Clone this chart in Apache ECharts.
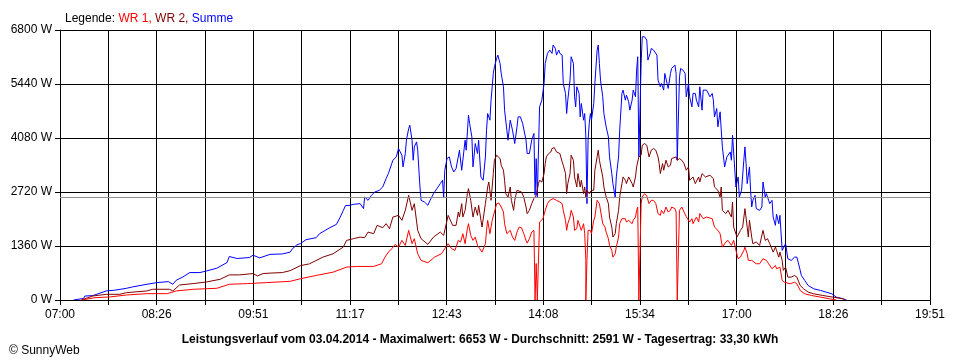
<!DOCTYPE html>
<html><head><meta charset="utf-8">
<script src="https://cdn.jsdelivr.net/npm/echarts@6/dist/echarts.min.js"></script>
<style>html,body{margin:0;padding:0;background:#fff}#c{width:960px;height:360px}</style>
</head><body><div id="c"></div>
<script>
const tickLabels = ["07:00","08:26","09:51","11:17","12:43","14:08","15:34","17:00","18:26","19:51"];
const yTicks = [0,1360,2720,4080,5440,6800];
const average = 2591;
const titleText = "Leistungsverlauf vom 03.04.2014 - Maximalwert: 6653 W - Durchschnitt: 2591 W - Tagesertrag: 33,30 kWh";

const sumPoints = [["07:12",0],["07:13",30],["07:21",40],["07:22",100],["07:29",110],["07:30",160],["07:41",228],["07:48",245],["07:59",295],["08:04",328],["08:17",396],["08:26",438],["08:36",463],["08:40",396],["08:43",497],["08:49",581],["08:55",691],["09:04",691],["09:10",733],["09:19",801],["09:28",943],["09:30",1095],["09:37",1045],["09:48",1070],["09:51",1129],["09:57",1060],["10:06",1148],["10:17",1160],["10:24",1206],["10:26",1292],["10:30",1390],["10:33",1418],["10:38",1519],["10:47",1569],["10:50",1670],["10:59",1820],["11:05",1905],["11:08",2070],["11:11",2250],["11:13",2380],["11:17",2384],["11:20",2409],["11:26",2427],["11:29",2301],["11:30",2594],["11:33",2510],["11:36",2637],["11:39",2720],["11:43",2763],["11:46",2847],["11:49",3058],["11:51",3184],["11:54",3436],["11:55",3520],["11:58",3604],["12:00",3814],["12:01",3772],["12:03",3646],["12:04",3352],["12:06",3688],["12:07",4024],["12:09",4319],["12:10",4403],["12:12",4024],["12:13",3520],["12:14",3856],["12:16",3982],["12:17",3772],["12:19",2847],["12:20",2510],["12:23",2468],["12:26",2384],["12:28",2510],["12:31",2679],["12:34",2805],["12:37",2931],["12:39",3015],["12:40",2594],["12:41",3268],["12:43",3562],["12:45",3604],["12:47",3352],["12:49",3226],["12:51",3310],["12:54",3772],["12:56",3268],["12:59",4024],["13:00",3772],["13:02",4655],["13:03",4445],["13:05",4108],["13:06",3352],["13:08",3941],["13:10",3689],["13:11",4024],["13:13",3099],["13:15",3015],["13:17",3604],["13:18",4277],["13:19",4697],["13:21",4529],["13:22",5033],["13:24",5706],["13:25",5874],["13:27",6085],["13:28",6168],["13:30",5958],["13:31",5706],["13:33",5370],["13:34",4781],["13:36",4277],["13:37",4024],["13:39",4529],["13:41",4277],["13:43",3941],["13:45",4361],["13:46",4613],["13:48",4613],["13:50",4445],["13:53",4024],["13:54",3689],["13:56",3689],["13:57",3856],["13:58",4024],["14:00",4193],["14:01",2640],["14:02",3560],["14:03",2600],["14:04",2600],["14:05",4865],["14:07",5033],["14:08",5033],["14:09",5454],["14:10",5958],["14:12",6210],["14:14",6294],["14:16",6210],["14:17",6421],["14:19",6336],["14:20",6168],["14:22",6294],["14:23",6210],["14:25",6168],["14:26",5454],["14:28",5202],["14:29",4697],["14:30",5033],["14:32",5538],["14:33",6126],["14:35",5958],["14:36",5118],["14:37",4865],["14:38",5370],["14:40",5202],["14:41",4613],["14:42",4949],["14:44",4529],["14:45",4697],["14:46",4108],["14:47",2427],["14:48",4024],["14:49",4445],["14:50",4697],["14:51",4529],["14:53",4949],["14:54",5454],["14:56",6294],["14:57",6421],["14:58",5958],["14:59",5538],["15:01",5118],["15:02",4697],["15:04",4361],["15:06",4108],["15:07",3604],["15:09",3184],["15:10",2931],["15:12",2594],["15:13",3099],["15:15",3604],["15:16",4277],["15:18",5202],["15:19",5286],["15:21",5033],["15:22",5159],["15:24",4991],["15:25",4781],["15:27",5033],["15:28",5286],["15:30",5118],["15:31",5790],["15:32",6126],["15:33",3604],["15:34",3646],["15:35",5958],["15:36",6630],["15:38",6630],["15:40",6546],["15:41",6042],["15:43",6210],["15:44",6336],["15:46",6294],["15:47",6336],["15:49",6168],["15:50",5538],["15:52",5370],["15:53",5454],["15:55",5286],["15:56",5706],["15:58",5454],["15:59",5328],["16:01",5706],["16:02",5832],["16:03",5874],["16:05",5916],["16:06",5706],["16:07",3520],["16:08",3520],["16:09",5622],["16:10",5832],["16:12",5790],["16:14",5706],["16:15",5118],["16:17",5454],["16:18",5118],["16:20",4865],["16:21",5202],["16:23",5202],["16:24",5033],["16:26",4865],["16:27",5370],["16:29",4781],["16:30",5286],["16:33",5286],["16:36",5118],["16:38",5202],["16:39",5033],["16:40",4613],["16:42",4823],["16:43",4361],["16:45",4739],["16:46",4277],["16:47",3856],["16:49",3352],["16:51",3604],["16:54",3730],["16:55",3520],["16:56",4151],["16:57",4109],["16:59",2846],["17:01",3099],["17:02",2594],["17:04",2763],["17:06",3520],["17:07",3856],["17:08",3436],["17:09",2931],["17:11",3352],["17:12",2763],["17:13",2342],["17:14",2510],["17:16",2637],["17:17",2301],["17:20",2258],["17:22",2342],["17:23",2972],["17:25",2594],["17:26",2679],["17:28",2510],["17:29",2427],["17:31",2510],["17:32",2089],["17:34",1880],["17:35",2161],["17:37",1922],["17:38",2132],["17:40",1249],["17:41",1206],["17:43",1418],["17:45",1040],["17:48",997],["17:51",1080],["17:53",1080],["17:56",745],["17:57",618],["18:00",492],["18:03",366],["18:08",282],["18:14",240],["18:19",198],["18:24",156],["18:28",72],["18:34",30],["18:37",0]];

const wr2Points = [["07:19",0],["07:20",43],["07:29",101],["07:41",143],["07:53",143],["07:59",185],["08:17",228],["08:22",270],["08:37",270],["08:40",228],["08:46",379],["08:58",413],["09:10",455],["09:22",522],["09:30",632],["09:39",632],["09:51",666],["09:55",607],["10:00",666],["10:06",677],["10:17",691],["10:24",740],["10:33",865],["10:41",910],["10:53",1080],["11:02",1164],["11:11",1332],["11:14",1501],["11:20",1544],["11:26",1585],["11:30",1569],["11:33",1711],["11:38",1670],["11:41",1880],["11:46",1821],["11:49",1922],["11:52",1796],["11:55",2089],["12:00",2132],["12:03",2006],["12:06",2258],["12:09",2637],["12:12",2258],["12:14",2427],["12:17",1754],["12:20",1544],["12:26",1400],["12:31",1585],["12:37",1711],["12:40",1627],["12:44",2132],["12:48",1880],["12:51",1880],["12:53",2216],["12:54",2089],["12:56",2427],["12:57",2089],["12:59",2258],["13:01",2679],["13:02",2805],["13:04",2510],["13:06",2089],["13:08",2342],["13:10",2132],["13:11",2384],["13:14",1837],["13:15",1796],["13:17",2427],["13:19",2846],["13:20",2972],["13:22",2510],["13:24",3184],["13:25",3520],["13:27",3646],["13:28",3688],["13:30",3562],["13:31",3394],["13:33",3268],["13:34",3015],["13:35",2679],["13:37",2594],["13:39",2846],["13:40",2510],["13:42",2258],["13:43",2510],["13:45",2763],["13:46",2780],["13:49",2720],["13:51",2594],["13:53",2342],["13:54",2175],["13:56",2258],["13:58",2427],["14:00",2553],["14:01",2510],["14:02",2637],["14:04",2931],["14:05",3015],["14:07",2972],["14:09",3184],["14:10",3436],["14:11",3604],["14:13",3688],["14:15",3730],["14:16",3814],["14:18",3839],["14:20",3730],["14:23",3688],["14:25",3478],["14:26",3394],["14:28",3184],["14:29",2679],["14:30",2931],["14:32",3184],["14:33",3646],["14:35",3520],["14:36",3099],["14:38",2846],["14:39",3184],["14:41",2846],["14:42",3015],["14:44",2679],["14:45",2846],["14:46",2594],["14:47",2763],["14:49",2679],["14:51",2763],["14:53",2763],["14:54",3268],["14:56",3604],["14:57",3772],["14:58",3520],["15:01",3099],["15:02",2846],["15:04",2594],["15:06",2427],["15:07",2089],["15:09",1837],["15:10",1585],["15:12",1670],["15:13",1922],["15:15",2258],["15:16",2594],["15:18",2931],["15:19",3099],["15:21",3015],["15:22",2931],["15:24",3099],["15:27",2931],["15:28",2846],["15:30",3099],["15:31",3352],["15:33",3604],["15:35",3646],["15:36",3898],["15:38",3940],["15:40",3898],["15:42",3604],["15:44",3772],["15:46",3814],["15:48",3772],["15:50",3604],["15:51",3436],["15:52",3184],["15:54",3436],["15:55",3268],["15:57",3520],["15:59",3352],["16:01",3394],["16:02",3562],["16:03",3520],["16:06",3604],["16:07",3520],["16:09",3562],["16:11",3520],["16:13",3436],["16:15",3268],["16:17",3352],["16:18",3015],["16:21",3099],["16:23",2931],["16:26",3099],["16:27",2972],["16:29",3184],["16:32",3099],["16:36",3142],["16:39",3058],["16:40",2846],["16:43",2763],["16:45",2594],["16:46",2846],["16:47",2258],["16:50",2175],["16:52",2258],["16:55",2089],["16:56",2468],["16:57",1837],["17:00",1585],["17:03",1754],["17:05",1837],["17:07",2301],["17:09",1837],["17:10",1585],["17:11",2006],["17:13",1585],["17:14",1418],["17:17",1459],["17:20",1375],["17:23",1754],["17:25",1501],["17:27",1544],["17:29",1418],["17:32",1206],["17:34",1332],["17:35",1249],["17:37",1080],["17:38",1206],["17:40",997],["17:41",745],["17:43",828],["17:45",576],["17:48",576],["17:51",618],["17:53",576],["17:56",366],["17:59",282],["18:03",198],["18:08",156],["18:16",114],["18:25",72],["18:34",30],["18:36",0]];

const wr1Points = [["07:19",0],["07:20",17],["07:31",59],["07:44",76],["07:59",126],["08:17",160],["08:35",160],["08:43",228],["08:58",270],["09:19",295],["09:30",396],["09:46",413],["10:03",438],["10:24",470],["10:33",535],["10:47",618],["11:02",701],["11:14",828],["11:23",845],["11:38",845],["11:45",913],["11:48",1080],["11:51",1206],["11:54",1292],["11:57",1400],["12:00",1332],["12:03",1501],["12:06",1375],["12:09",1754],["12:12",1418],["12:14",1544],["12:17",1164],["12:20",997],["12:26",938],["12:32",1080],["12:38",1164],["12:41",1292],["12:44",1418],["12:47",1292],["12:50",1249],["12:51",1332],["12:53",1501],["12:55",1459],["12:57",1670],["12:59",1418],["13:01",1796],["13:02",1922],["13:04",1627],["13:06",1501],["13:08",1585],["13:10",1375],["13:12",1292],["13:14",1206],["13:17",1418],["13:18",1754],["13:19",2006],["13:21",1670],["13:23",2006],["13:25",2216],["13:27",2427],["13:29",2442],["13:31",2342],["13:33",2216],["13:34",1922],["13:36",1670],["13:39",1754],["13:41",1585],["13:43",1501],["13:45",1711],["13:47",1837],["13:49",1821],["13:51",1670],["13:53",1501],["13:54",1433],["13:56",1544],["13:58",1711],["14:00",1754],["14:01",0],["14:02",0],["14:02",920],["14:03",920],["14:03",0],["14:04",0],["14:05",1964],["14:08",2048],["14:10",2258],["14:12",2427],["14:14",2510],["14:17",2553],["14:20",2510],["14:23",2468],["14:25",2427],["14:26",2258],["14:28",2006],["14:29",1754],["14:30",1922],["14:32",2089],["14:33",2258],["14:35",2089],["14:36",1754],["14:38",1796],["14:39",2006],["14:41",1837],["14:42",1754],["14:44",1922],["14:45",1670],["14:46",997],["14:46",0],["14:47",0],["14:47",997],["14:48",1754],["14:50",1754],["14:51",1670],["14:53",2006],["14:54",2089],["14:56",2510],["14:57",2553],["14:58",2427],["15:00",2089],["15:01",1922],["15:03",1837],["15:04",1711],["15:06",1544],["15:07",1375],["15:09",1249],["15:10",1080],["15:12",1164],["15:13",1332],["15:15",1585],["15:16",1922],["15:18",2048],["15:19",2006],["15:21",2048],["15:22",1964],["15:24",2006],["15:25",1964],["15:27",1922],["15:28",2006],["15:30",2089],["15:31",2258],["15:32",2342],["15:33",0],["15:34",0],["15:35",2427],["15:36",2594],["15:38",2679],["15:40",2620],["15:42",2427],["15:44",2510],["15:46",2510],["15:48",2427],["15:50",2175],["15:52",2132],["15:53",2258],["15:55",2175],["15:57",2342],["15:59",2216],["16:01",2258],["16:02",2342],["16:05",2301],["16:06",2216],["16:07",0],["16:08",0],["16:09",2258],["16:11",2342],["16:12",2301],["16:13",2216],["16:15",2100],["16:18",1964],["16:20",2048],["16:21",1922],["16:24",2089],["16:26",1964],["16:27",2175],["16:30",2048],["16:33",2089],["16:38",2048],["16:40",1837],["16:43",1754],["16:45",1670],["16:47",1332],["16:50",1459],["16:52",1501],["16:55",1375],["16:57",1501],["16:59",1249],["17:01",1040],["17:03",1080],["17:06",1249],["17:07",1332],["17:09",1164],["17:10",997],["17:13",997],["17:17",913],["17:20",913],["17:23",1040],["17:26",997],["17:28",913],["17:31",787],["17:34",870],["17:35",787],["17:38",828],["17:40",492],["17:42",449],["17:47",408],["17:51",449],["17:53",408],["17:56",240],["18:00",156],["18:06",114],["18:14",72],["18:22",30],["18:28",0]];

// axis runs 07:00 .. 19:51, expressed in seconds after 07:00
const START_MIN = 7 * 60;
const AXIS_MAX = 771 * 60;
const AXIS_STEP = AXIS_MAX / 18;
function toSec(t) { const p = t.split(':'); return ((+p[0]) * 60 + (+p[1]) - START_MIN) * 60; }
function conv(arr) { return arr.map(d => [toSec(d[0]), d[1]]); }

const font = 'Liberation Sans, Arial, sans-serif';
const chart = echarts.init(document.getElementById('c'), null, { renderer: 'canvas' });
chart.setOption({
  animation: false,
  backgroundColor: '#ffffff',
  title: [
    { text: '{k|Legende: }{a|WR 1, }{b|WR 2, }{c|Summe}', left: 60, top: 8,
      textStyle: { fontWeight: 'normal', rich: {
        k: { color: '#000000', fontSize: 12, fontWeight: 'normal', fontFamily: font },
        a: { color: '#ff0000', fontSize: 12, fontWeight: 'normal', fontFamily: font },
        b: { color: '#800000', fontSize: 12, fontWeight: 'normal', fontFamily: font },
        c: { color: '#0000ff', fontSize: 12, fontWeight: 'normal', fontFamily: font } } } },
    { text: titleText, left: 'center', top: 329,
      textStyle: { color: '#000', fontSize: 12, fontWeight: 'bold', fontFamily: font } },
    { text: '© SunnyWeb', left: 4, top: 340,
      textStyle: { color: '#000', fontSize: 12, fontWeight: 'normal', fontFamily: font } }
  ],
  grid: { left: 60, right: 30, top: 30, bottom: 60, containLabel: false },
  xAxis: {
    type: 'value', min: 0, max: AXIS_MAX, interval: AXIS_STEP,
    axisLine: { show: true, lineStyle: { color: '#000', width: 1 } },
    axisTick: { show: true, length: 5, lineStyle: { color: '#000' } },
    splitLine: { show: true, lineStyle: { color: '#000', width: 1 } },
    axisLabel: { color: '#000', fontSize: 12, fontFamily: font, margin: 9,
      formatter: function (v) { const i = Math.round(v / AXIS_STEP); return i % 2 === 0 ? (tickLabels[i / 2] || '') : ''; } }
  },
  yAxis: {
    type: 'value', min: yTicks[0], max: yTicks[yTicks.length - 1], interval: yTicks[1] - yTicks[0],
    axisLine: { show: true, lineStyle: { color: '#000', width: 1 } },
    axisTick: { show: true, length: 5, lineStyle: { color: '#000' } },
    splitLine: { show: true, lineStyle: { color: '#000', width: 1 } },
    axisLabel: { color: '#000', fontSize: 12, fontFamily: font, margin: 8,
      formatter: function (v) { return String(v) + ' W'; } }
  },
  series: [
    { name: 'Summe', type: 'line', data: conv(sumPoints), showSymbol: false, symbol: 'none',
      lineStyle: { color: '#0000ff', width: 1 }, itemStyle: { color: '#0000ff' },
      markLine: { silent: true, symbol: 'none', label: { show: false },
        lineStyle: { color: '#909090', width: 1, type: 'solid' }, data: [{ yAxis: average }] } },
    { name: 'WR 2', type: 'line', data: conv(wr2Points), showSymbol: false, symbol: 'none',
      lineStyle: { color: '#800000', width: 1 }, itemStyle: { color: '#800000' } },
    { name: 'WR 1', type: 'line', data: conv(wr1Points), showSymbol: false, symbol: 'none',
      lineStyle: { color: '#ff0000', width: 1 }, itemStyle: { color: '#ff0000' } }
  ]
});
</script></body></html>
